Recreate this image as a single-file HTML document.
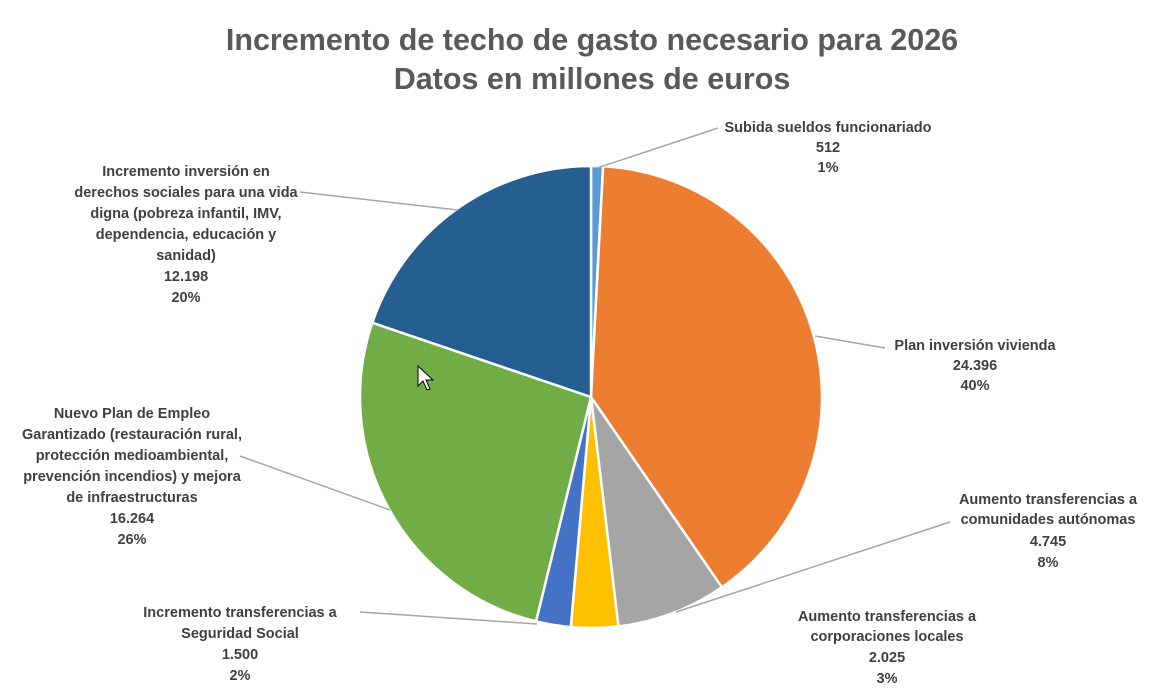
<!DOCTYPE html>
<html><head><meta charset="utf-8"><style>
html,body{margin:0;padding:0;background:#fff;}
svg{display:block;font-family:"Liberation Sans","DejaVu Sans",sans-serif;}
.l{font-size:14.5px;fill:#404040;font-weight:bold;}
</style></head><body>
<svg width="1153" height="690" viewBox="0 0 1153 690">
<rect width="1153" height="690" fill="#fff"/>
<text x="592" y="50" text-anchor="middle" font-size="30.5" font-weight="bold" fill="#595959">Incremento de techo de gasto necesario para 2026</text>
<text x="592" y="89" text-anchor="middle" font-size="30.5" font-weight="bold" fill="#595959">Datos en millones de euros</text>
<g stroke="#fff" stroke-width="2.5" stroke-linejoin="round">
<path d="M591,397 L591,166 A231,231 0 0 1 603.1,166.3 Z" fill="#5B9BD5"/>
<path d="M591,397 L603.1,166.3 A231,231 0 0 1 721.9,587.3 Z" fill="#ED7D31"/>
<path d="M591,397 L721.9,587.3 A231,231 0 0 1 618.4,626.4 Z" fill="#A5A5A5"/>
<path d="M591,397 L618.4,626.4 A231,231 0 0 1 570.8,627.1 Z" fill="#FFC000"/>
<path d="M591,397 L570.8,627.1 A231,231 0 0 1 536.0,621.4 Z" fill="#4472C4"/>
<path d="M591,397 L536.0,621.4 A231,231 0 0 1 372.3,322.7 Z" fill="#70AD47"/>
<path d="M591,397 L372.3,322.7 A231,231 0 0 1 591,166 Z" fill="#255E91"/>
</g>
<g stroke="#A6A6A6" stroke-width="1.5" fill="none">
<polyline points="597,168 718,128"/>
<polyline points="815,336 885,348"/>
<polyline points="676,612 950,522"/>
<polyline points="537,624 360,612"/>
<polyline points="390,510 240,456"/>
<polyline points="458,210 300,192"/>
</g>
<g class="l" text-anchor="middle">
<text x="828" y="132">Subida sueldos funcionariado</text>
<text x="828" y="152">512</text>
<text x="828" y="172">1%</text>
<text x="975" y="350">Plan inversión vivienda</text>
<text x="975" y="370">24.396</text>
<text x="975" y="390">40%</text>
<text x="1048" y="504">Aumento transferencias a</text>
<text x="1048" y="524">comunidades autónomas</text>
<text x="1048" y="546">4.745</text>
<text x="1048" y="567">8%</text>
<text x="887" y="621">Aumento transferencias a</text>
<text x="887" y="641">corporaciones locales</text>
<text x="887" y="662">2.025</text>
<text x="887" y="683">3%</text>
<text x="240" y="617">Incremento transferencias a</text>
<text x="240" y="638">Seguridad Social</text>
<text x="240" y="659">1.500</text>
<text x="240" y="680">2%</text>
<text x="132" y="418">Nuevo Plan de Empleo</text>
<text x="132" y="439">Garantizado (restauración rural,</text>
<text x="132" y="460">protección medioambiental,</text>
<text x="132" y="481">prevención incendios) y mejora</text>
<text x="132" y="502">de infraestructuras</text>
<text x="132" y="523">16.264</text>
<text x="132" y="544">26%</text>
<text x="186" y="176">Incremento inversión en</text>
<text x="186" y="197">derechos sociales para una vida</text>
<text x="186" y="218">digna (pobreza infantil, IMV,</text>
<text x="186" y="239">dependencia, educación y</text>
<text x="186" y="260">sanidad)</text>
<text x="186" y="281">12.198</text>
<text x="186" y="302">20%</text>
</g>
<path d="M418,366 L418,386 L423,381 L427,390 L430,389 L426,380 L433,380 Z" fill="#fff" stroke="#000" stroke-width="1"/>
</svg>
</body></html>
